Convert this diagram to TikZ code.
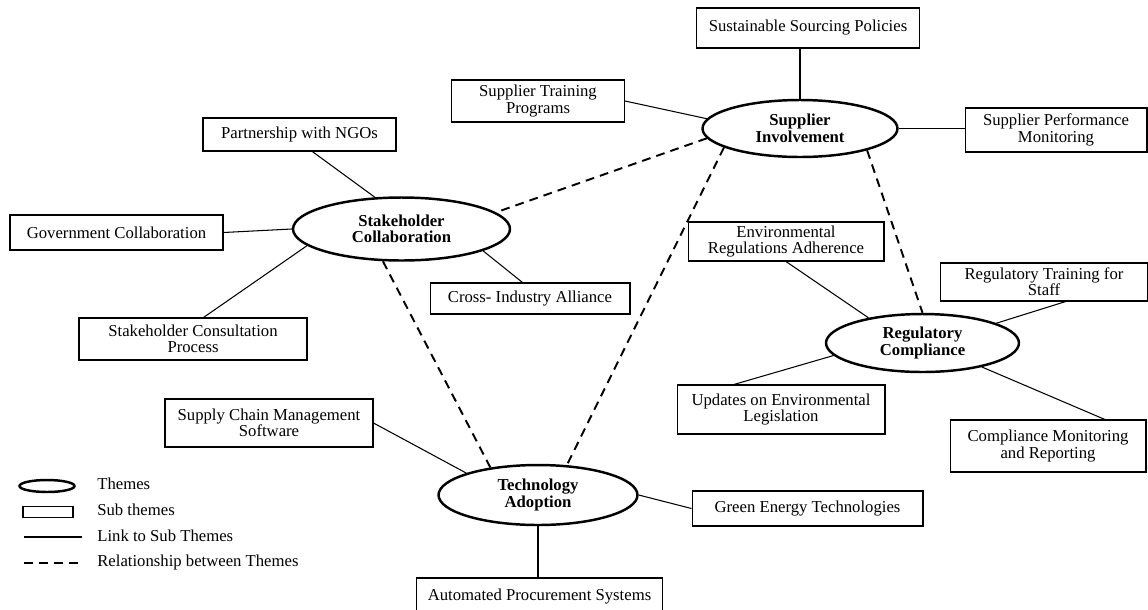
\documentclass[tikz,border=0pt]{standalone}
\usepackage{fontspec}
\setmainfont{Liberation Serif}
\usetikzlibrary{shapes.geometric}

\begin{document}
\begin{tikzpicture}[x=0.02cm, y=-0.02cm,
		themenode/.style={ellipse, draw, line width=1.4pt, inner sep=0pt, align=center, font=\fontsize{9.5}{9.4}\selectfont\bfseries},
		subbox/.style={rectangle, draw, line width=0.6pt, inner sep=0pt, align=center, font=\fontsize{9.5}{9.2}\selectfont},
		sublink/.style={line width=0.6pt},
		themerel/.style={line width=1.1pt, dash pattern=on 5pt off 3.5pt},
		legtext/.style={anchor=west, inner sep=0pt, font=\fontsize{9.5}{9.5}\selectfont}]
			%%%%% START %%%%%
			
			\useasboundingbox (0, 0) rectangle (1148, 609);
			
			\node[themenode, minimum width=3.9cm, minimum height=1.14cm] (si) at (800, 128.5) {Supplier\\Involvement};
			\node[themenode, minimum width=4.34cm, minimum height=1.26cm] (sc) at (401.5, 229) {Stakeholder\\Collaboration};
			\node[themenode, minimum width=3.86cm, minimum height=1.16cm] (rc) at (922.5, 343) {Regulatory\\Compliance};
			\node[themenode, minimum width=3.98cm, minimum height=1.2cm] (ta) at (538, 495) {Technology\\Adoption};
			
			\node[subbox, minimum width=4.46cm, minimum height=0.8cm] (ssp) at (808, 28) {Sustainable Sourcing Policies};
			\node[subbox, minimum width=3.46cm, minimum height=0.84cm] (stp) at (538, 101) {Supplier Training\\Programs};
			\node[subbox, minimum width=3.64cm, minimum height=0.88cm] (spm) at (1056, 130) {Supplier Performance\\Monitoring};
			
			\node[subbox, minimum width=3.86cm, minimum height=0.66cm] (pn) at (299.5, 134.5) {Partnership with NGOs};
			\node[subbox, minimum width=4.26cm, minimum height=0.7cm] (gc) at (116.5, 232.5) {Government Collaboration};
			\node[subbox, minimum width=4cm, minimum height=0.62cm] (cia) at (530, 298.5) {Cross- Industry Alliance};
			\node[subbox, minimum width=4.56cm, minimum height=0.84cm] (scp) at (193, 339) {Stakeholder Consultation\\Process};
			
			\node[subbox, minimum width=3.92cm, minimum height=0.78cm] (era) at (786, 241.5) {Environmental\\Regulations Adherence};
			\node[subbox, minimum width=4.16cm, minimum height=0.76cm] (rts) at (1044, 282) {Regulatory Training for\\Staff};
			\node[subbox, minimum width=4.16cm, minimum height=0.98cm] (uel) at (781, 409.5) {Updates on Environmental\\Legislation};
			\node[subbox, minimum width=3.92cm, minimum height=1.04cm] (cmr) at (1048, 446) {Compliance Monitoring\\and Reporting};
			
			\node[subbox, minimum width=4.16cm, minimum height=0.96cm] (scm) at (269, 423) {Supply Chain Management\\Software};
			\node[subbox, minimum width=4.62cm, minimum height=0.7cm] (get) at (807.5, 508.5) {Green Energy Technologies};
			\node[subbox, minimum width=4.92cm, minimum height=0.68cm, text depth=0pt] (aps) at (539.5, 595) {Automated Procurement Systems};
			
			% links to sub themes
			\draw[sublink] (si.north) -- (si.north |- ssp.south);
			\draw[sublink] (stp.east) -- (si.174);
			\draw[sublink] (si.east) -- (spm.west |- si.east);
			
			\draw[sublink] (pn.307) -- (sc.130);
			\draw[sublink] (gc.east) -- (sc.west);
			\draw[sublink] (sc.345) -- (cia.115);
			\draw[sublink] (sc.190) -- (scp.64);
			
			\draw[sublink] (era.south) -- (rc.155);
			\draw[sublink] (rc.15) -- (rts.318);
			\draw[sublink] (rc.188) -- (uel.152);
			\draw[sublink] (rc.338) -- (cmr.25);
			
			\draw[sublink] (scm.east) -- (ta.163);
			\draw[sublink] (ta.east) -- (get.west);
			\draw[sublink] (ta.south) -- (ta.south |- aps.north);
			
			% relationships between themes
			\draw[themerel] (si.186) -- (sc.10);
			\draw[themerel] (si.194) -- (ta.46);
			\draw[themerel] (si.342) -- (rc.north);
			\draw[themerel] (sc.240) -- (ta.150);
			
			% legend
			\node[ellipse, draw, line width=1.4pt, inner sep=0pt, minimum width=1.1cm, minimum height=0.24cm] (legtheme) at (47, 486) {};
			\node[rectangle, draw, line width=0.6pt, inner sep=0pt, minimum width=1cm, minimum height=0.22cm] (legsub) at (48, 512) {};
			\coordinate (leglinka) at (24, 537);
			\coordinate (leglinkb) at (82, 537);
			\coordinate (legrela) at (24, 563);
			\coordinate (legrelb) at (80, 563);
			\draw[sublink] (leglinka) -- (leglinkb);
			\draw[themerel] (legrela) -- (legrelb);
			
			\node[legtext] (legthemetxt) at (97, 484) {Themes};
			\node[legtext] (legsubtxt) at (97, 510) {Sub themes};
			\node[legtext] (leglinktxt) at (97, 536) {Link to Sub Themes};
			\node[legtext] (legreltxt) at (97, 562) {Relationship between Themes};
			
			%%%%% END %%%%%
\end{tikzpicture}
\end{document}
